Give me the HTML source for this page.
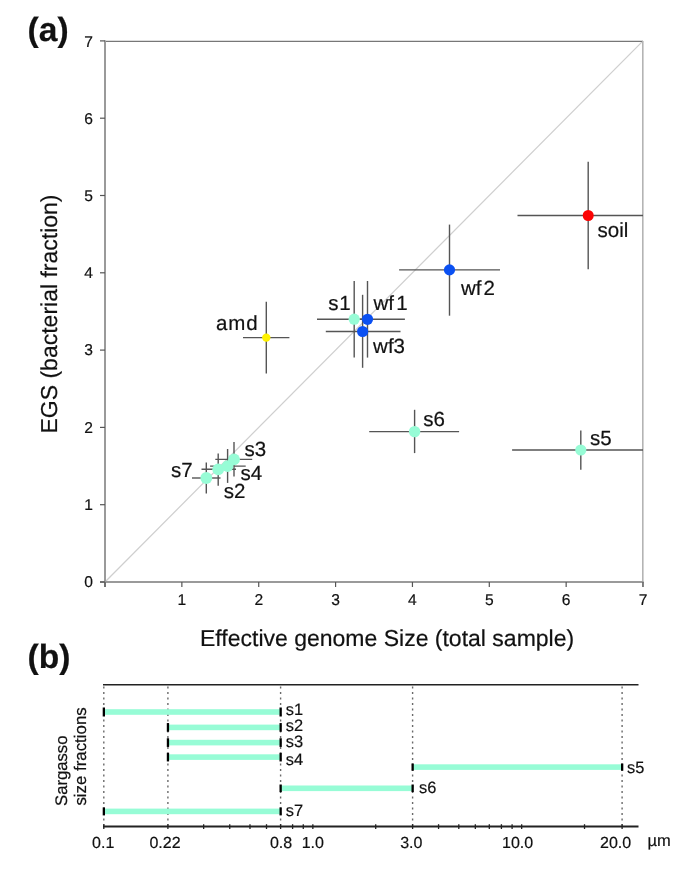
<!DOCTYPE html>
<html><head><meta charset="utf-8"><style>
html,body{margin:0;padding:0;background:#fff;}
body{width:685px;height:872px;overflow:hidden;}
svg{display:block;will-change:transform;text-rendering:geometricPrecision;font-family:"Liberation Sans", sans-serif;}
text{fill:#111;stroke:#111;stroke-width:0.2px;}
</style></head><body>
<svg width="685" height="872" viewBox="0 0 685 872">
<rect width="685" height="872" fill="#fff"/>
<line x1="105.00" y1="582.00" x2="643.02" y2="40.90" stroke="#cfcfcf" stroke-width="1.25" />
<line x1="105.00" y1="41.40" x2="643.00" y2="41.40" stroke="#777" stroke-width="1.4" />
<line x1="642.80" y1="41.00" x2="642.80" y2="587.00" stroke="#b4b4b4" stroke-width="1.6" />
<line x1="105.00" y1="40.50" x2="105.00" y2="587.00" stroke="#9a9a9a" stroke-width="2" />
<line x1="100.00" y1="582.00" x2="643.50" y2="582.00" stroke="#9a9a9a" stroke-width="2" />
<line x1="100.00" y1="582.00" x2="105.00" y2="582.00" stroke="#555" stroke-width="1.2" />
<line x1="105.00" y1="582.00" x2="105.00" y2="587.00" stroke="#555" stroke-width="1.2" />
<text x="93.00" y="587.00" font-size="15.6" text-anchor="end" font-weight="normal" >0</text>
<line x1="100.00" y1="504.70" x2="105.00" y2="504.70" stroke="#555" stroke-width="1.2" />
<line x1="181.86" y1="582.00" x2="181.86" y2="587.00" stroke="#555" stroke-width="1.2" />
<text x="93.00" y="510.00" font-size="15.6" text-anchor="end" font-weight="normal" >1</text>
<text x="181.86" y="605.00" font-size="15.6" text-anchor="middle" font-weight="normal" >1</text>
<line x1="100.00" y1="427.40" x2="105.00" y2="427.40" stroke="#555" stroke-width="1.2" />
<line x1="258.72" y1="582.00" x2="258.72" y2="587.00" stroke="#555" stroke-width="1.2" />
<text x="93.00" y="433.00" font-size="15.6" text-anchor="end" font-weight="normal" >2</text>
<text x="258.72" y="605.00" font-size="15.6" text-anchor="middle" font-weight="normal" >2</text>
<line x1="100.00" y1="350.10" x2="105.00" y2="350.10" stroke="#555" stroke-width="1.2" />
<line x1="335.58" y1="582.00" x2="335.58" y2="587.00" stroke="#555" stroke-width="1.2" />
<text x="93.00" y="355.00" font-size="15.6" text-anchor="end" font-weight="normal" >3</text>
<text x="335.58" y="605.00" font-size="15.6" text-anchor="middle" font-weight="normal" >3</text>
<line x1="100.00" y1="272.80" x2="105.00" y2="272.80" stroke="#555" stroke-width="1.2" />
<line x1="412.44" y1="582.00" x2="412.44" y2="587.00" stroke="#555" stroke-width="1.2" />
<text x="93.00" y="278.00" font-size="15.6" text-anchor="end" font-weight="normal" >4</text>
<text x="412.44" y="605.00" font-size="15.6" text-anchor="middle" font-weight="normal" >4</text>
<line x1="100.00" y1="195.50" x2="105.00" y2="195.50" stroke="#555" stroke-width="1.2" />
<line x1="489.30" y1="582.00" x2="489.30" y2="587.00" stroke="#555" stroke-width="1.2" />
<text x="93.00" y="201.00" font-size="15.6" text-anchor="end" font-weight="normal" >5</text>
<text x="489.30" y="605.00" font-size="15.6" text-anchor="middle" font-weight="normal" >5</text>
<line x1="100.00" y1="118.20" x2="105.00" y2="118.20" stroke="#555" stroke-width="1.2" />
<line x1="566.16" y1="582.00" x2="566.16" y2="587.00" stroke="#555" stroke-width="1.2" />
<text x="93.00" y="124.00" font-size="15.6" text-anchor="end" font-weight="normal" >6</text>
<text x="566.16" y="605.00" font-size="15.6" text-anchor="middle" font-weight="normal" >6</text>
<line x1="100.00" y1="40.90" x2="105.00" y2="40.90" stroke="#555" stroke-width="1.2" />
<line x1="643.02" y1="582.00" x2="643.02" y2="587.00" stroke="#555" stroke-width="1.2" />
<text x="93.00" y="47.00" font-size="15.6" text-anchor="end" font-weight="normal" >7</text>
<text x="643.02" y="605.00" font-size="15.6" text-anchor="middle" font-weight="normal" >7</text>
<line x1="588.20" y1="161.70" x2="588.20" y2="269.20" stroke="#555555" stroke-width="1.4" />
<line x1="517.50" y1="215.50" x2="643.00" y2="215.50" stroke="#555555" stroke-width="1.4" />
<line x1="449.50" y1="224.60" x2="449.50" y2="315.70" stroke="#555555" stroke-width="1.4" />
<line x1="399.10" y1="269.90" x2="500.00" y2="269.90" stroke="#555555" stroke-width="1.4" />
<line x1="354.20" y1="281.00" x2="354.20" y2="357.60" stroke="#555555" stroke-width="1.4" />
<line x1="317.00" y1="319.20" x2="370.00" y2="319.20" stroke="#555555" stroke-width="1.4" />
<line x1="367.50" y1="281.00" x2="367.50" y2="357.60" stroke="#555555" stroke-width="1.4" />
<line x1="360.00" y1="319.30" x2="404.90" y2="319.30" stroke="#555555" stroke-width="1.4" />
<line x1="362.60" y1="294.80" x2="362.60" y2="367.80" stroke="#555555" stroke-width="1.4" />
<line x1="325.80" y1="331.50" x2="400.50" y2="331.50" stroke="#555555" stroke-width="1.4" />
<line x1="266.30" y1="301.70" x2="266.30" y2="373.50" stroke="#555555" stroke-width="1.4" />
<line x1="243.00" y1="337.60" x2="289.40" y2="337.60" stroke="#555555" stroke-width="1.4" />
<line x1="414.60" y1="409.80" x2="414.60" y2="453.10" stroke="#555555" stroke-width="1.4" />
<line x1="369.20" y1="431.60" x2="459.10" y2="431.60" stroke="#555555" stroke-width="1.4" />
<line x1="580.80" y1="430.50" x2="580.80" y2="469.70" stroke="#555555" stroke-width="1.4" />
<line x1="512.10" y1="450.00" x2="643.00" y2="450.00" stroke="#555555" stroke-width="1.4" />
<line x1="206.30" y1="462.40" x2="206.30" y2="493.40" stroke="#555555" stroke-width="1.4" />
<line x1="192.00" y1="478.00" x2="220.50" y2="478.00" stroke="#555555" stroke-width="1.4" />
<line x1="218.20" y1="453.40" x2="218.20" y2="485.80" stroke="#555555" stroke-width="1.4" />
<line x1="201.50" y1="469.30" x2="236.00" y2="469.30" stroke="#555555" stroke-width="1.4" />
<line x1="227.60" y1="449.00" x2="227.60" y2="482.90" stroke="#555555" stroke-width="1.4" />
<line x1="210.10" y1="466.10" x2="245.70" y2="466.10" stroke="#555555" stroke-width="1.4" />
<line x1="234.00" y1="442.00" x2="234.00" y2="476.50" stroke="#555555" stroke-width="1.4" />
<line x1="215.30" y1="459.40" x2="252.20" y2="459.40" stroke="#555555" stroke-width="1.4" />
<circle cx="588.20" cy="215.50" r="5.5" fill="#fc0303"/>
<circle cx="449.50" cy="269.90" r="5.6" fill="#0a50f2"/>
<circle cx="354.20" cy="319.20" r="5.6" fill="#97fcd6"/>
<circle cx="367.50" cy="319.30" r="5.6" fill="#0a50f2"/>
<circle cx="362.60" cy="331.50" r="5.6" fill="#0a50f2"/>
<circle cx="266.30" cy="337.60" r="4.2" fill="#fff200"/>
<circle cx="414.60" cy="431.60" r="5.7" fill="#97fcd6"/>
<circle cx="580.80" cy="450.00" r="5.6" fill="#97fcd6"/>
<circle cx="206.30" cy="478.00" r="5.95" fill="#97fcd6"/>
<circle cx="218.20" cy="469.30" r="5.9" fill="#97fcd6"/>
<circle cx="227.60" cy="466.10" r="5.9" fill="#97fcd6"/>
<circle cx="234.00" cy="459.40" r="5.9" fill="#97fcd6"/>
<text x="597.50" y="237.00" font-size="20.5" text-anchor="start" font-weight="normal" >soil</text>
<text x="461" y="295" font-size="20.5">wf<tspan dx="2.0">2</tspan></text>
<text x="328.3" y="310" font-size="20.5">s<tspan dx="0.8">1</tspan></text>
<text x="373.5" y="310" font-size="20.5">wf<tspan dx="2.2">1</tspan></text>
<text x="373.10" y="353.00" font-size="20.5" text-anchor="start" font-weight="normal" >wf3</text>
<text x="216.00" y="330.00" font-size="20.5" text-anchor="start" font-weight="normal" letter-spacing="0.85">amd</text>
<text x="423.20" y="425.50" font-size="20.5" text-anchor="start" font-weight="normal" >s6</text>
<text x="590.00" y="445.00" font-size="20.5" text-anchor="start" font-weight="normal" >s5</text>
<text x="171.00" y="477.00" font-size="20.5" text-anchor="start" font-weight="normal" >s7</text>
<text x="244.60" y="456.00" font-size="20.5" text-anchor="start" font-weight="normal" >s3</text>
<text x="240.60" y="480.00" font-size="20.5" text-anchor="start" font-weight="normal" >s4</text>
<text x="223.80" y="498.00" font-size="20.5" text-anchor="start" font-weight="normal" >s2</text>
<text x="27.60" y="41.20" font-size="33.6" text-anchor="start" font-weight="bold" >(a)</text>
<text transform="translate(56.8,433.5) rotate(-90)" font-size="23">EGS (bacterial fraction)</text>
<text x="200.00" y="645.50" font-size="23" text-anchor="start" font-weight="normal" >Effective genome Size (total sample)</text>
<line x1="103.00" y1="684.70" x2="638.50" y2="684.70" stroke="#222" stroke-width="1.6" />
<line x1="103.00" y1="826.60" x2="638.50" y2="826.60" stroke="#222" stroke-width="2" />
<line x1="103.80" y1="686.50" x2="103.80" y2="826.60" stroke="#6a6a6a" stroke-width="1.4" stroke-dasharray="2 3.5"/>
<line x1="167.90" y1="686.50" x2="167.90" y2="826.60" stroke="#6a6a6a" stroke-width="1.4" stroke-dasharray="2 3.5"/>
<line x1="280.60" y1="686.50" x2="280.60" y2="826.60" stroke="#6a6a6a" stroke-width="1.4" stroke-dasharray="2 3.5"/>
<line x1="412.60" y1="686.50" x2="412.60" y2="826.60" stroke="#6a6a6a" stroke-width="1.4" stroke-dasharray="2 3.5"/>
<line x1="622.10" y1="686.50" x2="622.10" y2="826.60" stroke="#6a6a6a" stroke-width="1.4" stroke-dasharray="2 3.5"/>
<line x1="203.65" y1="824.20" x2="203.65" y2="829.00" stroke="#222" stroke-width="1.3" />
<line x1="229.74" y1="824.20" x2="229.74" y2="829.00" stroke="#222" stroke-width="1.3" />
<line x1="249.98" y1="824.20" x2="249.98" y2="829.00" stroke="#222" stroke-width="1.3" />
<line x1="266.51" y1="824.20" x2="266.51" y2="829.00" stroke="#222" stroke-width="1.3" />
<line x1="292.60" y1="824.20" x2="292.60" y2="829.00" stroke="#222" stroke-width="1.3" />
<line x1="303.28" y1="824.20" x2="303.28" y2="829.00" stroke="#222" stroke-width="1.3" />
<line x1="312.84" y1="824.20" x2="312.84" y2="829.00" stroke="#222" stroke-width="1.3" />
<line x1="375.70" y1="824.20" x2="375.70" y2="829.00" stroke="#222" stroke-width="1.3" />
<line x1="438.56" y1="824.20" x2="438.56" y2="829.00" stroke="#222" stroke-width="1.3" />
<line x1="458.80" y1="824.20" x2="458.80" y2="829.00" stroke="#222" stroke-width="1.3" />
<line x1="475.33" y1="824.20" x2="475.33" y2="829.00" stroke="#222" stroke-width="1.3" />
<line x1="489.31" y1="824.20" x2="489.31" y2="829.00" stroke="#222" stroke-width="1.3" />
<line x1="501.42" y1="824.20" x2="501.42" y2="829.00" stroke="#222" stroke-width="1.3" />
<line x1="512.10" y1="824.20" x2="512.10" y2="829.00" stroke="#222" stroke-width="1.3" />
<line x1="521.66" y1="824.20" x2="521.66" y2="829.00" stroke="#222" stroke-width="1.3" />
<line x1="584.52" y1="824.20" x2="584.52" y2="829.00" stroke="#222" stroke-width="1.3" />
<line x1="103.80" y1="824.20" x2="103.80" y2="829.00" stroke="#222" stroke-width="1.3" />
<line x1="167.90" y1="824.20" x2="167.90" y2="829.00" stroke="#222" stroke-width="1.3" />
<line x1="280.60" y1="824.20" x2="280.60" y2="829.00" stroke="#222" stroke-width="1.3" />
<line x1="412.60" y1="824.20" x2="412.60" y2="829.00" stroke="#222" stroke-width="1.3" />
<line x1="622.10" y1="824.20" x2="622.10" y2="829.00" stroke="#222" stroke-width="1.3" />
<rect x="103.80" y="709.20" width="176.80" height="5.6" fill="#97fcd6"/>
<rect x="102.70" y="707.50" width="2.3" height="9" fill="#000"/>
<rect x="279.50" y="707.50" width="2.3" height="9" fill="#000"/>
<rect x="167.90" y="724.60" width="112.70" height="5.6" fill="#97fcd6"/>
<rect x="166.80" y="723.05" width="2.3" height="8.7" fill="#000"/>
<rect x="279.50" y="723.05" width="2.3" height="8.7" fill="#000"/>
<rect x="167.90" y="739.80" width="112.70" height="5.6" fill="#97fcd6"/>
<rect x="166.80" y="738.25" width="2.3" height="8.7" fill="#000"/>
<rect x="279.50" y="738.25" width="2.3" height="8.7" fill="#000"/>
<rect x="167.90" y="754.30" width="112.70" height="5.6" fill="#97fcd6"/>
<rect x="166.80" y="752.75" width="2.3" height="8.7" fill="#000"/>
<rect x="279.50" y="752.75" width="2.3" height="8.7" fill="#000"/>
<rect x="412.60" y="764.30" width="209.50" height="5.6" fill="#97fcd6"/>
<rect x="411.50" y="763.50" width="2.3" height="7.2" fill="#000"/>
<rect x="621.00" y="763.50" width="2.3" height="7.2" fill="#000"/>
<rect x="280.60" y="785.50" width="132.00" height="5.6" fill="#97fcd6"/>
<rect x="279.50" y="784.50" width="2.3" height="7.6" fill="#000"/>
<rect x="411.50" y="784.50" width="2.3" height="7.6" fill="#000"/>
<rect x="103.80" y="808.60" width="176.80" height="5.6" fill="#97fcd6"/>
<rect x="102.70" y="807.40" width="2.3" height="8" fill="#000"/>
<rect x="279.50" y="807.40" width="2.3" height="8" fill="#000"/>
<text x="285.70" y="715.30" font-size="16.4" text-anchor="start" font-weight="normal" >s1</text>
<text x="285.70" y="731.00" font-size="16.4" text-anchor="start" font-weight="normal" >s2</text>
<text x="285.70" y="747.40" font-size="16.4" text-anchor="start" font-weight="normal" >s3</text>
<text x="285.70" y="764.70" font-size="16.4" text-anchor="start" font-weight="normal" >s4</text>
<text x="627.10" y="772.60" font-size="16.4" text-anchor="start" font-weight="normal" >s5</text>
<text x="419.10" y="793.40" font-size="16.4" text-anchor="start" font-weight="normal" >s6</text>
<text x="285.70" y="815.70" font-size="16.4" text-anchor="start" font-weight="normal" >s7</text>
<text x="103.20" y="848.00" font-size="16" text-anchor="middle" font-weight="normal" >0.1</text>
<text x="165.00" y="848.00" font-size="16" text-anchor="middle" font-weight="normal" >0.22</text>
<text x="281.00" y="848.00" font-size="16" text-anchor="middle" font-weight="normal" >0.8</text>
<text x="312.80" y="848.00" font-size="16" text-anchor="middle" font-weight="normal" >1.0</text>
<text x="411.30" y="848.00" font-size="16" text-anchor="middle" font-weight="normal" >3.0</text>
<text x="517.60" y="848.00" font-size="16" text-anchor="middle" font-weight="normal" >10.0</text>
<text x="615.60" y="848.00" font-size="16" text-anchor="middle" font-weight="normal" >20.0</text>
<text x="647.50" y="846.00" font-size="16.5" text-anchor="start" font-weight="normal" >&#181;m</text>
<text transform="translate(66.7,806) rotate(-90)" font-size="16.7">Sargasso</text>
<text transform="translate(86.3,805.6) rotate(-90)" font-size="16.85">size fractions</text>
<text x="27.60" y="668.30" font-size="33.6" text-anchor="start" font-weight="bold" >(b)</text>
</svg>
</body></html>
